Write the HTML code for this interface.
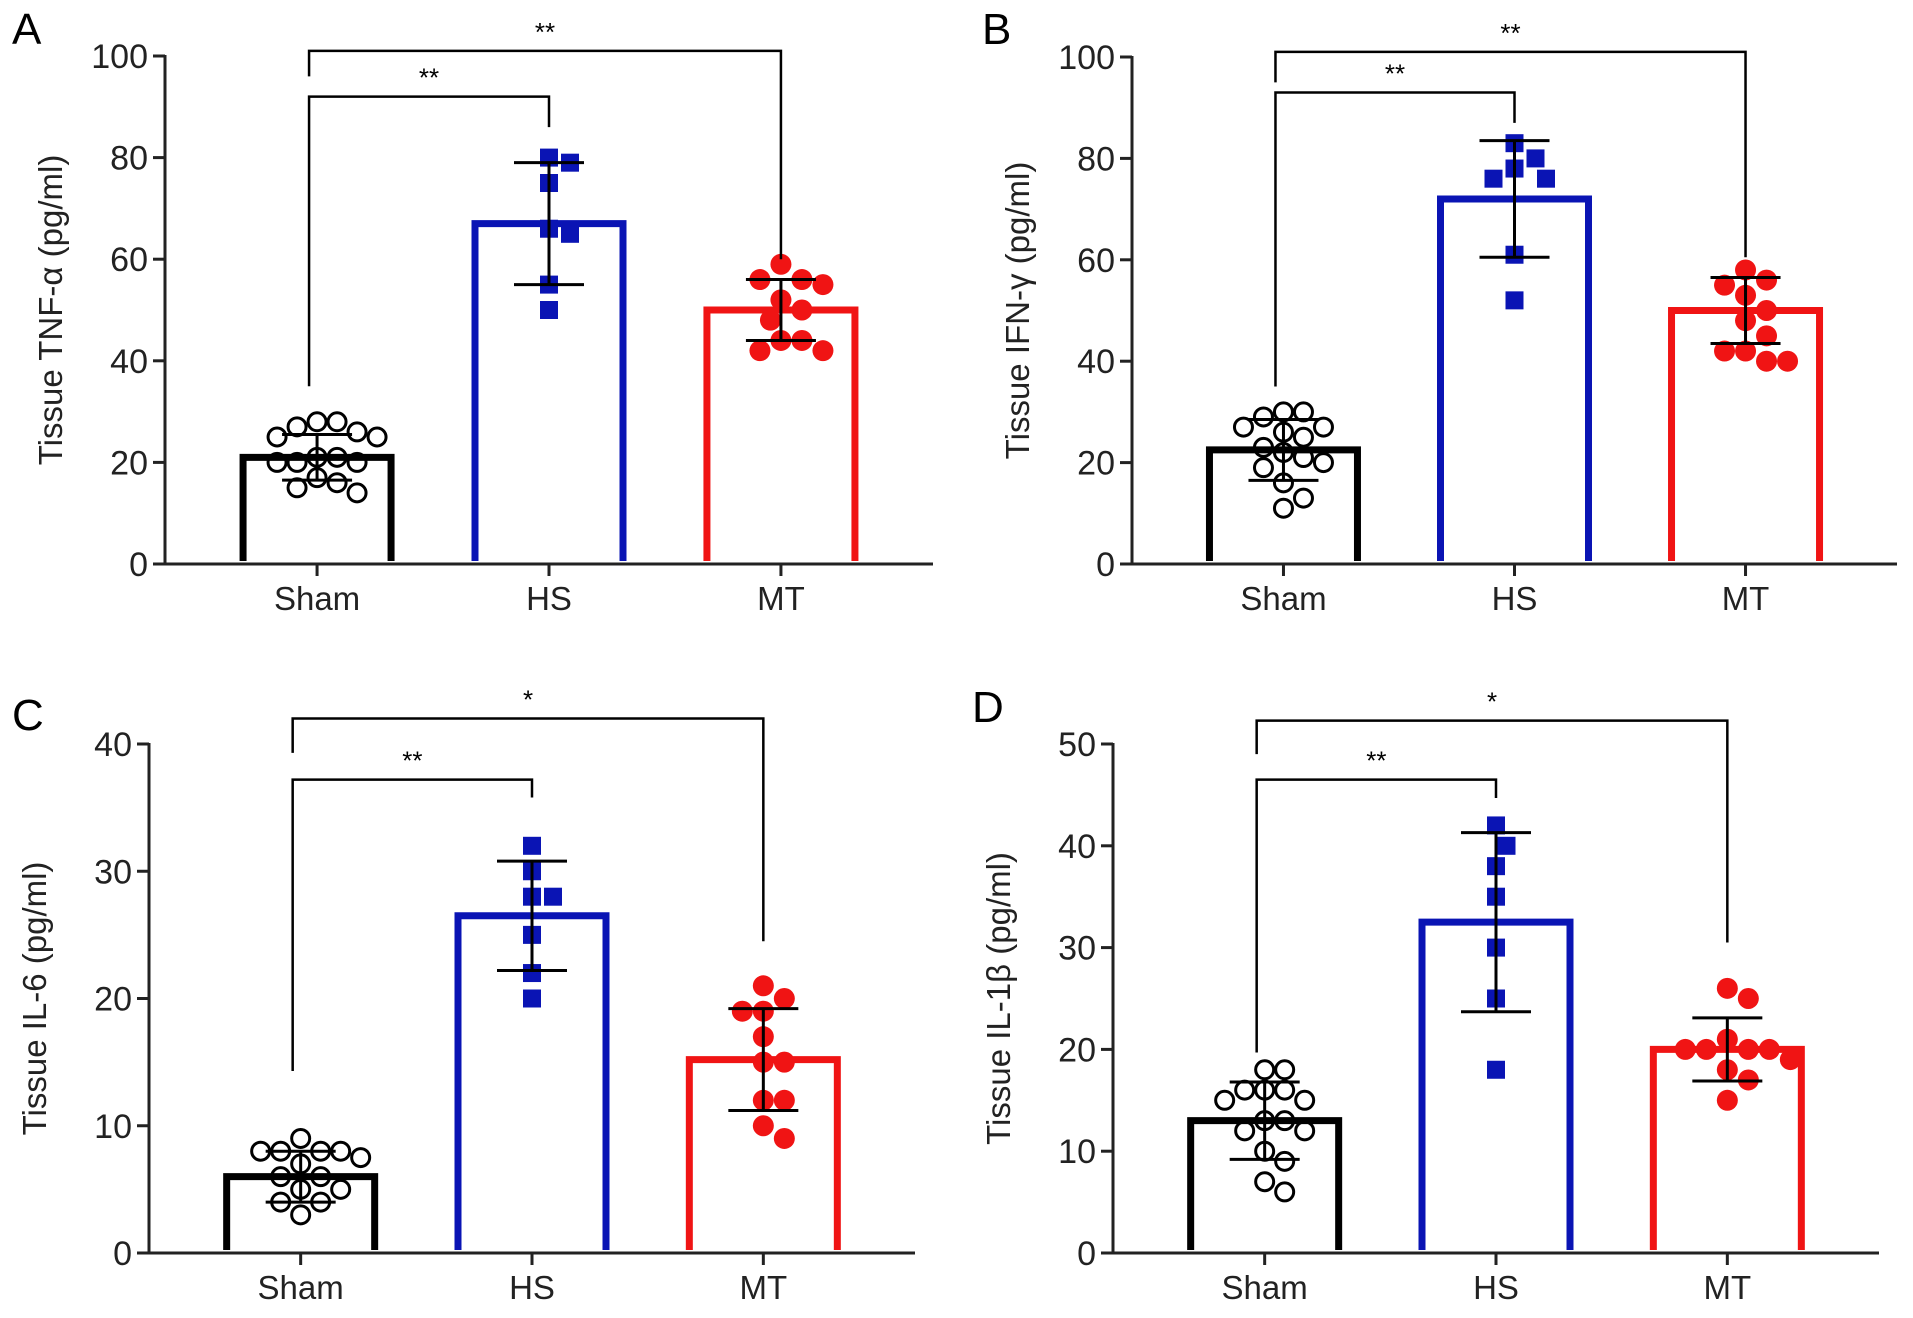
<!DOCTYPE html>
<html><head><meta charset="utf-8"><style>
html,body{margin:0;padding:0;background:#fff;}
svg{display:block;font-family:"Liberation Sans",Arial,sans-serif;}
</style></head><body>
<svg id="fig" width="1913" height="1318" viewBox="0 0 1913 1318" xmlns="http://www.w3.org/2000/svg"></svg>
<script>
const categories = ["Sham","HS","MT"];
// Panel A: TNF-alpha
const aMeans = [21, 67, 50];
const aSD = [4.5, 12, 6];
const aSham = [28,28,27,26,25,25,21,21,20,20,20,17,16,15,14];
const aHS = [80,79,75,66,65,55,50];
const aMT = [59,56,56,55,52,50,48,44,44,42,42];
const aTicks = [0,20,40,60,80,100];
// Panel B: IFN-gamma
const bMeans = [22.5, 72, 50];
const bSD = [6, 11.5, 6.5];
const bSham = [30,30,29,27,27,26,25,23,22,21,20,19,16,13,11];
const bHS = [83,80,78,76,76,61,52];
const bMT = [58,56,55,53,50,48,45,42,42,40,40];
const bTicks = [0,20,40,60,80,100];
// Panel C: IL-6
const cMeans = [6, 26.5, 15.2];
const cSD = [2, 4.3, 4];
const cSham = [9,8,8,8,8,7.5,7,6,6,5,5,4,4,3];
const cHS = [32,30,28,28,25,22,20];
const cMT = [21,20,19,19,17,15,15,12,12,10,9];
const cTicks = [0,10,20,30,40];
// Panel D: IL-1beta
const dMeans = [13, 32.5, 20];
const dSD = [3.8, 8.8, 3.1];
const dSham = [18,18,16,16,16,15,15,13,13,12,12,10,9,7,6];
const dHS = [42,40,38,35,30,25,18];
const dMT = [26,25,21,20,20,20,20,19,18,17,15];
const dTicks = [0,10,20,30,40,50];

const NS='http://www.w3.org/2000/svg';
const svg=document.getElementById('fig');
function mk(tag,attrs,parent){const e=document.createElementNS(NS,tag);for(const k in attrs)e.setAttribute(k,attrs[k]);(parent||svg).appendChild(e);return e;}

const colors=['#000000','#0a14b4','#f01414'];

function panel(cfg){
  const g=mk('g',{});
  
  
  const ymax=cfg.ticks[cfg.ticks.length-1];
  const y=v=>cfg.y0-(v/ymax)*(cfg.y0-cfg.yTop);
  const span=(cfg.xEnd-cfg.x0);
  const x=i=>cfg.x0+span*(0.198+0.302*i);
  const L=mk('text',{x:cfg.lx,y:cfg.ly,'font-size':44,fill:'#000'},g);L.textContent=cfg.letter;
  
  
  const ya=mk('line',{x1:cfg.x0,y1:cfg.yTop-1,x2:cfg.x0,y2:cfg.y0,stroke:'#222','stroke-width':3},g);
  
  
  const xa=mk('line',{x1:cfg.x0-12,y1:cfg.y0,x2:cfg.xEnd,y2:cfg.y0,stroke:'#222','stroke-width':3},g);
  
  
  cfg.ticks.forEach(t=>{
    mk('line',{x1:cfg.x0-12,y1:y(t),x2:cfg.x0,y2:y(t),stroke:'#222','stroke-width':3},g);
    const tt=mk('text',{x:cfg.x0-17,y:y(t)+12,'font-size':34,'text-anchor':'end',fill:'#222'},g);tt.textContent=t;
    
    
  });
  const yt=mk('text',{x:0,y:0,'font-size':33,'text-anchor':'middle',fill:'#222',transform:`translate(${cfg.x0-103},${(cfg.y0+cfg.yTop)/2}) rotate(-90)`},g);
  yt.textContent=cfg.title;
  
  
  const bw=148;
  categories.forEach((c,i)=>{
    const cx=x(i);
    mk('line',{x1:cx,y1:cfg.y0,x2:cx,y2:cfg.y0+12,stroke:'#222','stroke-width':3},g);
    const ct=mk('text',{x:cx,y:cfg.y0+46,'font-size':33,'text-anchor':'middle',fill:'#222'},g);ct.textContent=c;
    
    
    const top=y(cfg.means[i]);
    const bar=mk('path',{d:`M${cx-bw/2} ${cfg.y0-3} V${top} H${cx+bw/2} V${cfg.y0-3}`,fill:'none',stroke:colors[i],'stroke-width':7},g);
    
    
    const vals=cfg.points[i];const placed=[];const d=(i===0?20:21);
    vals.forEach(v=>{
      const py=y(v);let off=0;
      for(let k=0;k<40;k++){
        const cand=k===0?0:(k%2? Math.ceil(k/2):-Math.ceil(k/2))*d*0.5;
        if(placed.every(p=>Math.hypot(p[0]-(cx+cand),p[1]-py)>=d)){off=cand;break;}
      }
      placed.push([cx+off,py]);
      let m;
      if(i===0) m=mk('circle',{cx:cx+off,cy:py,r:9,fill:'none',stroke:'#000','stroke-width':3},g);
      else if(i===1) m=mk('rect',{x:cx+off-9,y:py-9,width:18,height:18,fill:colors[1]},g);
      else m=mk('circle',{cx:cx+off,cy:py,r:10.5,fill:colors[2]},g);
      
      
    });
    const hi=y(cfg.means[i]+cfg.sd[i]),lo=y(cfg.means[i]-cfg.sd[i]);
    const eb=mk('path',{d:`M${cx} ${hi} V${lo} M${cx-35} ${hi} H${cx+35} M${cx-35} ${lo} H${cx+35}`,stroke:'#000','stroke-width':3,fill:'none'},g);
    
    
  });
  cfg.brackets.forEach(b=>{
    const x1=x(0)-8,x2=x(b[0]);
    const br=mk('path',{d:`M${x1} ${y(b[2])} V${y(b[1])} H${x2} V${y(b[3])}`,stroke:'#000','stroke-width':2.5,fill:'none'},g);
    
    
    const st=mk('text',{x:(x1+x2)/2,y:y(b[1])-10,'font-size':26,'text-anchor':'middle',fill:'#000'},g);st.textContent=b[4];
    
    
  });
}

panel({letter:'A',lx:12,ly:44,x0:165,xEnd:933,yTop:56,y0:564,ticks:aTicks,means:aMeans,sd:aSD,points:[aSham,aHS,aMT],title:'Tissue TNF-α (pg/ml)',
  brackets:[[2,101,96,60,'**'],[1,92,35,86,'**']]});
panel({letter:'B',lx:982,ly:44,x0:1132,xEnd:1897,yTop:57,y0:564,ticks:bTicks,means:bMeans,sd:bSD,points:[bSham,bHS,bMT],title:'Tissue IFN-γ (pg/ml)',
  brackets:[[2,101,95,60.5,'**'],[1,93,35,87,'**']]});
panel({letter:'C',lx:12,ly:730,x0:149,xEnd:915,yTop:744,y0:1253,ticks:cTicks,means:cMeans,sd:cSD,points:[cSham,cHS,cMT],title:'Tissue IL-6 (pg/ml)',
  brackets:[[2,42,39.3,24.5,'*'],[1,37.2,14.3,35.8,'**']]});
panel({letter:'D',lx:972,ly:722,x0:1113,xEnd:1879,yTop:744,y0:1253,ticks:dTicks,means:dMeans,sd:dSD,points:[dSham,dHS,dMT],title:'Tissue IL-1β (pg/ml)',
  brackets:[[2,52.3,49,30.5,'*'],[1,46.5,19.7,44.7,'**']]});
</script>
</body></html>
